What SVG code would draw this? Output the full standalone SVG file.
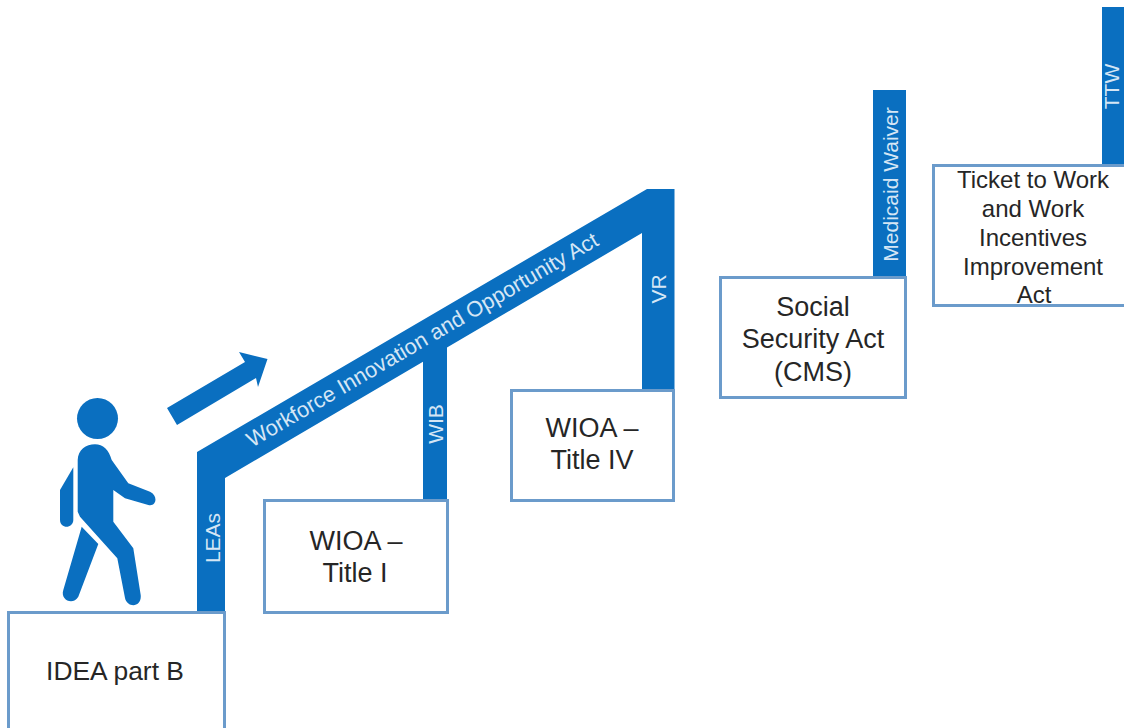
<svg xmlns="http://www.w3.org/2000/svg" width="1124" height="728" viewBox="0 0 1124 728">
<style>
.bar{fill:#0a6fc0}
.box rect{fill:#fff;stroke:#6b9bcb;stroke-width:3}
.box text{font-family:"Liberation Sans",Arial,sans-serif;font-size:27px;fill:#262626;text-anchor:middle}
.box text.sm{font-size:24px}
.lab{font-family:"Liberation Sans",Arial,sans-serif;font-size:21px;fill:#d5e6f5;text-anchor:middle}
</style>
<rect width="1124" height="728" fill="#fff"/>
<g id="connectors">
<path class="bar" d="M197 612V452L647 189H674.500V390H642V233L447 347.600V500H423V361.700L225 478V612Z"/>
<rect class="bar" x="873" y="90" width="33" height="188"/>
<rect class="bar" x="1102" y="7" width="22" height="159"/>
<text class="lab" transform="translate(219.500 538) rotate(-90)">LEAs</text>
<text class="lab" transform="translate(443 424) rotate(-90)">WIB</text>
<text class="lab" transform="translate(666 289) rotate(-90)">VR</text>
<text class="lab" transform="translate(426 346) rotate(-30.300)" style="font-size:21.800px">Workforce Innovation and Opportunity Act</text>
<text class="lab" transform="translate(898 184.500) rotate(-90)">Medicaid Waiver</text>
<text class="lab" transform="translate(1119 86.500) rotate(-90)">TTW</text>
</g>
<g id="arrow"><path class="bar" d="M167 408L177 425L256 378L258 387L267.500 359L239 352L245 362Z"/></g>
<g id="person">
<circle class="bar" cx="97.500" cy="418.500" r="20.500"/>
<path class="bar" d="M77.700 460C78 450 86 444.300 95 444.300C103 444.300 109 450 111.700 460L128.300 483.300L150 491.700C158 495 157 507 148.300 505L125 498.300L113.300 490V521.700L133.300 548.300L140.700 595C142 608 127 608 125 598L117.300 558.300L80 516.700L77.700 511.700Z"/>
<path class="bar" d="M73.300 467.300V520C73 529 60 529 60 520V490Z"/>
<path class="bar" d="M81.700 526.700L98.300 544L78.300 596.700C73 606 60 600 63.300 590Z"/>
</g>
<g id="idea" class="box"><rect x="8.500" y="612.500" width="216" height="130"/><text x="115" y="680" style="font-size:26.400px">IDEA part B</text></g>
<g id="wioa1" class="box"><rect x="264.500" y="500.500" width="183" height="112"/><text x="356" y="550">WIOA –</text><text x="355" y="582">Title  I</text></g>
<g id="wioa4" class="box"><rect x="511.500" y="390.500" width="162" height="110"/><text x="592" y="437">WIOA –</text><text x="592" y="469">Title  IV</text></g>
<g id="ssa" class="box"><rect x="720.500" y="277.500" width="185" height="120"/><text x="813" y="316">Social</text><text x="813" y="348">Security Act</text><text x="813" y="381">(CMS)</text></g>
<g id="ticket" class="box"><rect x="933.500" y="165.500" width="210" height="140"/><text class="sm" x="1033" y="188">Ticket to Work</text><text class="sm" x="1033" y="217">and Work</text><text class="sm" x="1033" y="246">Incentives</text><text class="sm" x="1033" y="275">Improvement</text><text class="sm" x="1034" y="303">Act</text></g>
</svg>
